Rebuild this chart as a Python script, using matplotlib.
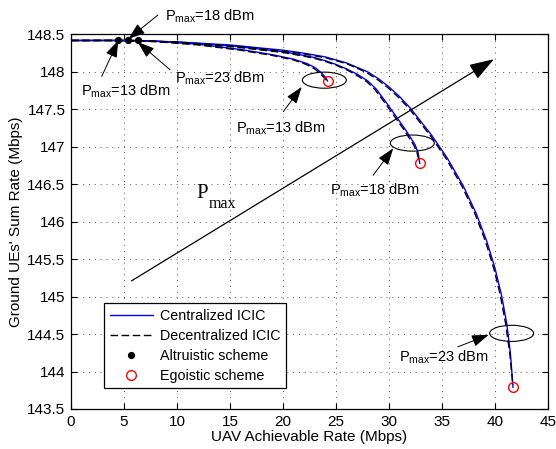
import matplotlib
matplotlib.use("Agg")
import matplotlib.pyplot as plt
from matplotlib.patches import Ellipse
from matplotlib.lines import Line2D

plt.rcParams['font.family'] = ['Liberation Sans', 'DejaVu Sans']
plt.rcParams['font.size'] = 10

# ---- data ----
# Centralized ICIC curves
cen13_x = [0, 4.5, 8, 12, 16, 19, 21, 22.3, 23.1, 23.6, 24.0, 24.2]
cen13_y = [148.42, 148.42, 148.41, 148.37, 148.30, 148.23, 148.17, 148.11, 148.05, 147.99, 147.93, 147.88]
cen18_x = [0, 5.4, 10, 15, 20, 22, 23, 24, 25, 26, 27, 28, 28.8, 29.7, 30.7, 31.5, 32.0, 32.45, 32.75, 32.9]
cen18_y = [148.42, 148.42, 148.40, 148.35, 148.27, 148.22, 148.19, 148.15, 148.10, 148.04, 147.97,
           147.88, 147.77, 147.60, 147.40, 147.24, 147.13, 147.03, 146.92, 146.78]
cen23_x = [0, 6.3, 10, 15, 20, 22, 24, 26, 27, 28, 29, 30, 31, 32, 34, 35.5, 37, 38.2, 39.2, 40.0,
           40.6, 41.1, 41.45, 41.7]
cen23_y = [148.42, 148.42, 148.40, 148.36, 148.29, 148.25, 148.20, 148.12, 148.06, 148.00, 147.91,
           147.80, 147.67, 147.52, 147.16, 146.85, 146.48, 146.12, 145.75, 145.38, 145.03, 144.65,
           144.25, 143.79]

# Decentralized ICIC curves
dec13_x = [0, 4.5, 8, 12, 16, 19, 21, 22.2, 23.0, 23.5, 23.9, 24.15]
dec13_y = [148.42, 148.42, 148.405, 148.36, 148.29, 148.22, 148.16, 148.10, 148.04, 147.98, 147.92, 147.88]
dec18_x = [0, 5.4, 10, 15, 20, 22, 23, 24, 25, 26, 26.9, 27.9, 28.7, 29.6, 30.6, 31.4, 31.9, 32.35,
           32.65, 32.85]
dec18_y = [148.42, 148.42, 148.395, 148.34, 148.26, 148.21, 148.18, 148.14, 148.09, 148.03, 147.96,
           147.87, 147.76, 147.59, 147.39, 147.23, 147.12, 147.02, 146.92, 146.80]
dec23_x = [0, 6.3, 10, 15, 20, 22, 24, 26, 27, 27.9, 28.9, 29.9, 30.9, 31.9, 33.9, 35.4, 36.9, 38.1,
           39.1, 39.9, 40.5, 41.0, 41.4, 41.68]
dec23_y = [148.42, 148.42, 148.395, 148.35, 148.28, 148.24, 148.19, 148.11, 148.05, 147.99, 147.90,
           147.79, 147.66, 147.51, 147.15, 146.84, 146.47, 146.11, 145.74, 145.37, 145.02, 144.64,
           144.24, 143.82]

# Scheme points
altru_x = [4.46, 5.41, 6.29]
altru_y = [148.42, 148.42, 148.42]
ego_x = [24.2, 32.9, 41.7]
ego_y = [147.88, 146.78, 143.79]

xticks = [0, 5, 10, 15, 20, 25, 30, 35, 40, 45]
yticks = [143.5, 144, 144.5, 145, 145.5, 146, 146.5, 147, 147.5, 148, 148.5]

fig = plt.figure(figsize=(5.56, 4.49), dpi=100)
ax = fig.add_axes([0.1277, 0.0891, 0.8579, 0.8341])

for cx, cy in [(cen13_x, cen13_y), (cen18_x, cen18_y), (cen23_x, cen23_y)]:
    ax.plot(cx, cy, color='#0000ff', lw=1.0, zorder=3)
for dx, dy in [(dec13_x, dec13_y), (dec18_x, dec18_y), (dec23_x, dec23_y)]:
    ax.plot(dx, dy, color='black', lw=1.0, ls=(0, (5.5, 2.5)), zorder=4)

ax.plot(altru_x, altru_y, 'o', color='black', ms=4.2, zorder=5)
ax.plot(ego_x, ego_y, 'o', mfc='none', mec='red', mew=1.0, ms=7, zorder=5)

# ellipses
for ex, ey in [(23.9, 147.89), (32.2, 147.05), (41.57, 144.51)]:
    ax.add_patch(Ellipse((ex, ey), 4.15, 0.215, fill=False, ec='black', lw=0.8, zorder=6))

ax.set_xlim(0, 45)
ax.set_ylim(143.5, 148.5)
ax.set_xticks(xticks)
ax.set_yticks(yticks)
ax.set_xticklabels([f'{v:g}' for v in xticks])
ax.set_yticklabels([f'{v:g}' for v in yticks])
ax.tick_params(direction='in', top=True, right=True, length=4, width=0.8, pad=4, labelsize=11)
for s in ax.spines.values():
    s.set_linewidth(0.9)
ax.grid(True, color='0.35', ls=(0, (1, 5)), lw=0.7)
ax.set_axisbelow(True)

ax.set_xlabel('UAV Achievable Rate (Mbps)', fontsize=11, labelpad=1)
ax.set_ylabel("Ground UEs' Sum Rate (Mbps)", fontsize=11, labelpad=3)

# annotations
small_arrow = dict(arrowstyle='-|>,head_length=0.8,head_width=0.28', color='black', lw=0.7,
                   shrinkA=0, shrinkB=0, mutation_scale=13)
big_arrow = dict(arrowstyle='-|>,head_length=0.9,head_width=0.3', color='black', lw=0.9,
                 shrinkA=0, shrinkB=0, mutation_scale=17)

def ann(head, tail, props):
    ax.annotate('', xy=head, xytext=tail, arrowprops=props, annotation_clip=False, zorder=7)

ann((5.41, 148.44), (8.2, 148.76), small_arrow)
ann((4.46, 148.42), (2.9, 147.94), small_arrow)
ann((6.29, 148.40), (9.34, 148.03), small_arrow)
ann((21.76, 147.80), (20.03, 147.47), small_arrow)
ann((30.4, 146.98), (28.5, 146.62), small_arrow)
ann((39.4, 144.49), (36.5, 144.33), small_arrow)
ann((39.9, 148.17), (5.7, 145.21), big_arrow)

lab = r'P$_{\mathregular{max}}$=%d dBm'
txt = [(8.87, 148.69, 18), (0.9, 147.69, 13), (9.8, 147.86, 23),
       (15.6, 147.20, 13), (24.4, 146.36, 18), (30.9, 144.14, 23)]
for tx, ty, p in txt:
    ax.text(tx, ty, lab % p, fontsize=10.5, ha='left', va='baseline', clip_on=False, zorder=8)

serif = ['Liberation Serif', 'DejaVu Serif']
ax.text(11.86, 146.32, 'P', fontsize=15, ha='left', va='baseline', family=serif, zorder=8)
ax.text(12.95, 146.18, 'max', fontsize=11.5, ha='left', va='baseline', family=serif, zorder=8)

handles = [Line2D([], [], color='#0000ff', lw=1.0),
           Line2D([], [], color='black', lw=1.0, ls=(0, (5.5, 2.5))),
           Line2D([], [], ls='none', marker='o', color='black', ms=4.2),
           Line2D([], [], ls='none', marker='o', mfc='none', mec='red', mew=1.0, ms=7)]
labels = ['Centralized ICIC', 'Decentralized ICIC', 'Altruistic scheme', 'Egoistic scheme']
leg = ax.legend(handles, labels, loc='lower left', bbox_to_anchor=(0.069, 0.055), borderaxespad=0,
                fancybox=False, edgecolor='black', framealpha=1, handlelength=3.0,
                handletextpad=0.5, labelspacing=0.42, borderpad=0.4, fontsize=10.3)
leg.get_frame().set_linewidth(0.9)
leg.set_zorder(9)

fig.savefig('out.png', dpi=100)
